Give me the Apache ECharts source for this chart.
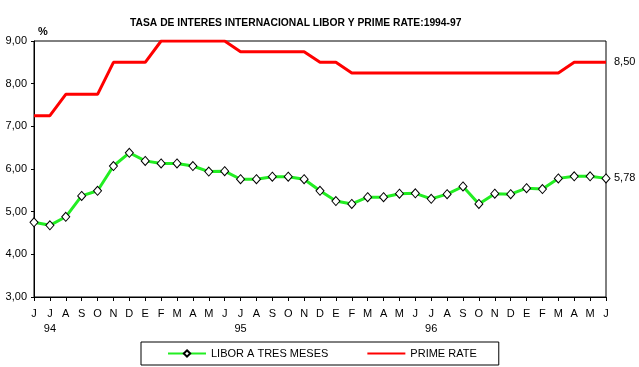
<!DOCTYPE html>
<html><head><meta charset="utf-8">
<script src="https://cdn.jsdelivr.net/npm/echarts@6/dist/echarts.min.js"></script>
<style>html,body{margin:0;padding:0;background:#fff}#c{width:639px;height:367px}</style>
</head><body><div id="c"></div>
<script>
var months = ['J','J','A','S','O','N','D','E','F','M','A','M','J','J','A','S','O','N','D','E','F','M','A','M','J','J','A','S','O','N','D','E','F','M','A','M','J'];
var yearLabels = {1:'94', 13:'95', 25:'96'};
var libor = [4.75,4.68,4.88,5.37,5.49,6.07,6.38,6.19,6.13,6.13,6.07,5.94,5.95,5.76,5.76,5.82,5.82,5.76,5.49,5.25,5.18,5.34,5.34,5.42,5.43,5.30,5.41,5.59,5.18,5.42,5.41,5.55,5.53,5.78,5.83,5.83,5.78];
var prime = [7.25,7.25,7.75,7.75,7.75,8.5,8.5,8.5,9.0,9.0,9.0,9.0,9.0,8.75,8.75,8.75,8.75,8.75,8.5,8.5,8.25,8.25,8.25,8.25,8.25,8.25,8.25,8.25,8.25,8.25,8.25,8.25,8.25,8.25,8.5,8.5,8.5];
var cats = months.map(function(m,i){return String(i);});
function fmt(v){return v.toFixed(2).replace('.',',');}
var chart = echarts.init(document.getElementById('c'), null, {renderer:'canvas'});
var font = 'Arial, "Liberation Sans", sans-serif';
chart.setOption({
  animation:false,
  backgroundColor:'#fff',
  textStyle:{fontFamily:font},
  title:{text:'TASA DE INTERES INTERNACIONAL LIBOR Y PRIME RATE:1994-97',left:125,top:13,
    textStyle:{fontSize:10.3,fontWeight:'bold',color:'#000',fontFamily:font}},
  graphic:[{type:'text',left:38,top:26,style:{text:'%',font:'bold 11px '+font,fill:'#000'}}],
  grid:{left:34,right:33,top:41,bottom:70,show:true,borderColor:'#000',borderWidth:1,containLabel:false},
  legend:{left:141,top:342,itemWidth:38,itemHeight:8,itemGap:38,padding:[6,22,6,26],
    borderColor:'#000',borderWidth:1,textStyle:{fontSize:11,color:'#000',fontFamily:font},
    data:['LIBOR A TRES MESES',{name:'PRIME RATE',itemStyle:{opacity:0}}]},
  xAxis:{type:'category',data:cats,boundaryGap:false,
    axisLine:{lineStyle:{color:'#000',width:1}},
    axisTick:{show:true,interval:0,length:4,lineStyle:{color:'#000'}},
    axisLabel:{interval:0,margin:9,color:'#000',fontSize:11,fontFamily:font,lineHeight:15,
      formatter:function(v,i){var idx=Number(v);return months[idx]+(yearLabels[idx]?'\n'+yearLabels[idx]:'');}},
    splitLine:{show:false}},
  yAxis:{type:'value',min:3,max:9,interval:1,
    axisLine:{show:true,lineStyle:{color:'#000',width:1}},
    axisTick:{show:true,length:3,lineStyle:{color:'#000'}},
    axisLabel:{margin:7,color:'#000',fontSize:11,fontFamily:font,formatter:function(v){return fmt(v);}},
    splitLine:{show:false}},
  series:[
    {name:'LIBOR A TRES MESES',type:'line',data:libor,symbol:'diamond',symbolSize:[8,9],showAllSymbol:true,
      itemStyle:{color:'#fff',borderColor:'#000',borderWidth:1},
      lineStyle:{color:'#22ee22',width:3},
      endLabel:{show:true,distance:8,color:'#000',fontSize:11,fontFamily:font,formatter:function(p){return fmt(p.value);}},
      z:3},
    {name:'PRIME RATE',type:'line',data:prime,symbol:'none',
      itemStyle:{color:'#ff0000'},
      lineStyle:{color:'#ff0000',width:3},
      endLabel:{show:true,distance:8,color:'#000',fontSize:11,fontFamily:font,formatter:function(p){return fmt(p.value);}},
      z:2}
  ]
});
</script></body></html>
